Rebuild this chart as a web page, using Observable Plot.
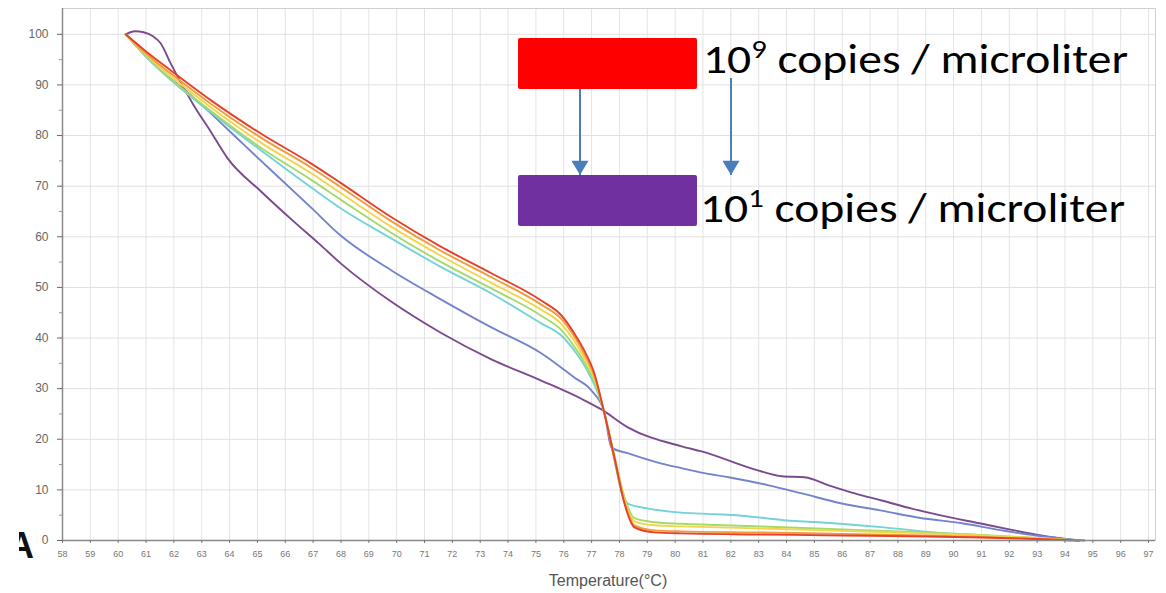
<!DOCTYPE html>
<html>
<head>
<meta charset="utf-8">
<script src="https://cdn.jsdelivr.net/npm/d3@7"></script>
<script src="https://cdn.jsdelivr.net/npm/@observablehq/plot@0.6"></script>
<style>
  html, body { margin: 0; padding: 0; background: #fff; }
  #wrap { position: relative; width: 1166px; height: 593px; overflow: hidden; }
  #overlay { position: absolute; left: 0; top: 0; pointer-events: none; }
</style>
</head>
<body>
<div id="wrap"></div>
<script>
// ---------- data ----------
const seriesNames  = ["10^1", "10^2", "10^3", "10^6", "10^7", "10^8", "10^9"];
const seriesColors = ["#7b4a8e", "#7484cc", "#74d3d6", "#a6d96a", "#f2d54b", "#f39c3a", "#e5412d"];

const xTicks = d3.range(58, 98);
const yTicks = d3.range(0, 101, 10);
const yMinorTicks = d3.range(5, 100, 10);

const topT = [60.27, 61.0, 61.88, 63.32, 65.12, 66.92, 68.0, 69.8, 71.6, 73.4, 75.19, 75.91, 76.38, 76.74, 77.1, 77.46, 77.82, 78.18, 78.54, 79.26, 80.23, 83, 86, 89, 91, 93, 94.5];
const redV    = [100, 96.6, 92.9, 87.0, 80.4, 74.5, 70.6, 63.9, 58.0, 52.8, 47.4, 44.5, 40.9, 37.5, 33.0, 25.1, 16.4, 7.3, 2.6, 1.6, 1.4, 1.2, 1.0, 0.8, 0.6, 0.3, 0];
const orangeV = [100, 96.2, 92.3, 86.3, 79.6, 73.7, 69.8, 63.1, 57.2, 52.0, 46.6, 43.8, 40.3, 36.8, 32.5, 25.1, 16.0, 7.6, 3.0, 2.0, 1.8, 1.6, 1.3, 1.0, 0.7, 0.3, 0];
const yellowV = [100, 96.0, 91.8, 85.6, 78.6, 72.6, 68.6, 62.0, 56.2, 50.9, 45.6, 42.8, 39.4, 36.0, 32.0, 25.2, 16.5, 8.0, 3.8, 3.0, 2.8, 2.4, 1.9, 1.4, 1.0, 0.5, 0];
const greenV  = [100, 95.7, 91.2, 84.9, 77.6, 71.3, 67.3, 60.8, 55.0, 49.8, 44.4, 41.6, 38.3, 35.2, 31.4, 25.2, 16.8, 8.6, 4.4, 3.6, 3.3, 2.8, 2.2, 1.6, 1.1, 0.5, 0];

const cyanT = [60.27, 61.0, 61.88, 63.32, 65.12, 66.92, 68.0, 69.8, 71.6, 73.4, 75.19, 75.91, 76.38, 76.9, 77.46, 77.82, 78.1, 78.3, 79.05, 80.23, 80.95, 82.4, 83.9, 85.7, 87.5, 89.3, 91.1, 92.9, 94.2];
const cyanV = [100, 95.6, 91.0, 84.6, 77.1, 69.8, 65.6, 59.7, 54.0, 48.8, 42.9, 40.5, 37.5, 33.0, 25.3, 16.0, 9.0, 7.3, 6.3, 5.5, 5.3, 4.9, 4.0, 3.4, 2.6, 1.6, 1.0, 0.4, 0];

const blueT = [60.27, 61.2, 62.71, 64.51, 66.92, 68.0, 69.8, 71.6, 73.4, 75.19, 76.38, 77.0, 77.46, 77.71, 78.32, 79.51, 80.23, 80.95, 81.92, 83.36, 84.55, 85.99, 87.42, 88.76, 90.3, 91.74, 92.93, 93.9, 94.5];
const blueV = [100, 94.5, 87.5, 78.2, 65.8, 60.2, 53.4, 47.6, 42.1, 37.0, 32.2, 29.6, 25.3, 18.4, 17.2, 15.2, 14.3, 13.4, 12.5, 10.9, 9.3, 7.3, 5.9, 4.5, 3.4, 2.0, 1.0, 0.4, 0];

const purpleT = [60.27, 60.6, 60.91, 61.25, 61.53, 61.88, 62.71, 63.32, 63.93, 65.12, 66.31, 67.2, 68.0, 69.8, 71.6, 73.4, 75.19, 76.63, 77.35, 78.32, 80.23, 80.95, 83.0, 83.83, 84.65, 85.52, 86.45, 87.42, 88.5, 89.58, 91.02, 92.0, 92.93, 94.15, 94.7];
const purpleV = [100, 100.6, 100.4, 99.6, 98.2, 94.3, 86.0, 80.8, 75.5, 69.0, 63.0, 58.7, 54.7, 47.2, 41.0, 35.8, 31.6, 28.0, 25.9, 22.3, 18.6, 17.6, 13.8, 12.7, 12.5, 10.9, 9.3, 7.9, 6.3, 4.9, 3.3, 2.2, 1.2, 0.2, 0];

const legendLabels = [{base: "10", exp: "9", rest: " copies / microliter"}, {base: "10", exp: "1", rest: " copies / microliter"}];
const legendColors = ["#ff0000", "#7030a0"];
const xLabel = "Temperature(°C)";

// ---------- table ----------
const seriesData = [
  [purpleT, purpleV], [blueT, blueV], [cyanT, cyanV],
  [topT, greenV], [topT, yellowV], [topT, orangeV], [topT, redV]
];
const rows = [];
seriesData.forEach(([T, V], i) => {
  T.forEach((t, j) => rows.push({series: seriesNames[i], t, v: V[j]}));
});

// ---------- chart ----------
const chart = Plot.plot({
  width: 1166,
  height: 593,
  marginLeft: 62,
  marginRight: 11,
  marginTop: 8,
  marginBottom: 53,
  style: {fontFamily: "'Liberation Sans', Arial, sans-serif", background: "#fff"},
  x: {domain: [58, 97.25], label: null},
  y: {domain: [0, 105.1], label: null},
  color: {domain: seriesNames, range: seriesColors},
  marks: [
    Plot.gridX(xTicks, {stroke: "#e3e3e3", strokeOpacity: 1, strokeWidth: 1}),
    Plot.gridY(yTicks, {stroke: "#e0e0e0", strokeOpacity: 1, strokeWidth: 1}),
    Plot.frame({stroke: "#d0d0d0"}),
    Plot.line(rows, {x: "t", y: "v", z: "series", stroke: "series", strokeWidth: 1.9, curve: "monotone-x"}),
    Plot.ruleX([58], {stroke: "#8a8a8a", strokeWidth: 1.5}),
    Plot.ruleY([0], {stroke: "#8a8a8a", strokeWidth: 1.5}),
    Plot.axisX(xTicks, {tickSize: 3, tickPadding: 7, fontSize: 9, color: "#777", label: null, tickFormat: d => String(d)}),
    Plot.axisY(yTicks, {tickSize: 5, tickPadding: 9, fontSize: 12, color: "#666", label: null}),
    Plot.axisY(yMinorTicks, {tickSize: 3, text: null, color: "#999", label: null})
  ]
});

const wrap = document.getElementById("wrap");
wrap.appendChild(chart);

// ---------- overlay (legend, arrows, axis title, panel letter) ----------
const ns = "http://www.w3.org/2000/svg";
const ov = d3.select(wrap).append("svg")
  .attr("id", "overlay").attr("width", 1166).attr("height", 593)
  .attr("xmlns", ns);

const defs = ov.append("defs");
defs.append("marker").attr("id", "ah").attr("viewBox", "0 0 10 12")
  .attr("refX", 10).attr("refY", 6).attr("markerWidth", 7.5).attr("markerHeight", 8.5)
  .attr("orient", "auto").attr("markerUnits", "strokeWidth")
  .append("path").attr("d", "M0,0 L10,6 L0,12 Z").attr("fill", "#4a7ebb");
defs.append("clipPath").attr("id", "clipA")
  .append("rect").attr("x", 19).attr("y", 500).attr("width", 30).attr("height", 80);

const boxes = [{y: 38}, {y: 175}];
boxes.forEach((b, i) => {
  ov.append("rect").attr("x", 518).attr("y", b.y).attr("width", 179).attr("height", 51)
    .attr("rx", 2).attr("fill", legendColors[i]);
});

const textY = [73, 222];
const textX = [703, 700];
const textW = [425, 425];
legendLabels.forEach((l, i) => {
  const t = ov.append("text").attr("x", textX[i]).attr("y", textY[i])
    .attr("font-family", "Carlito, Lato, 'Open Sans', sans-serif")
    .attr("font-size", 42).attr("fill", "#000")
    .attr("textLength", textW[i]).attr("lengthAdjust", "spacingAndGlyphs");
  t.append("tspan").text(l.base);
  t.append("tspan").attr("dy", -15).attr("font-size", 27).text(l.exp);
  t.append("tspan").attr("dy", 15).text(l.rest);
});

// arrows
[[580, 89, 175], [731, 78, 175]].forEach(([x, y1, y2]) => {
  ov.append("line").attr("x1", x).attr("x2", x).attr("y1", y1).attr("y2", y2)
    .attr("stroke", "#4a7ebb").attr("stroke-width", 2).attr("marker-end", "url(#ah)");
});

ov.append("text").attr("x", 608).attr("y", 586).attr("text-anchor", "middle")
  .attr("font-family", "'Liberation Sans', Arial, sans-serif").attr("font-size", 16)
  .attr("fill", "#555").text(xLabel);

ov.append("text").attr("x", 34).attr("y", 558).attr("text-anchor", "end")
  .attr("font-family", "'Liberation Sans', Arial, sans-serif").attr("font-weight", "bold")
  .attr("font-size", 36).attr("fill", "#111").attr("clip-path", "url(#clipA)").text("A");
</script>
</body>
</html>
